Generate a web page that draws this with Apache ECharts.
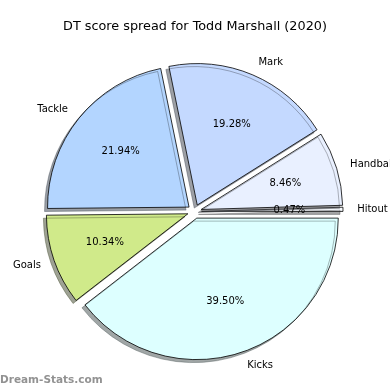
<!DOCTYPE html>
<html><head><meta charset="utf-8">
<script src="https://cdn.jsdelivr.net/npm/echarts@6/dist/echarts.min.js"></script>
<style>html,body{margin:0;padding:0;background:#fff}#c{width:390px;height:390px}</style>
</head><body><div id="c"></div>
<script>
const categories = ['Hitout', 'Handball', 'Mark', 'Tackle', 'Goals', 'Kicks'];
const shares = [0.47, 8.46, 19.28, 21.94, 10.34, 39.50];
const sliceColors = ['#f8fbff', '#e9f0ff', '#c4d9ff', '#b3d5ff', '#d0ea8a', '#ddffff'];
const chartTitle = 'DT score spread for Todd Marshall (2020)';
const watermark = 'Dream-Stats.com';

const R = 141.5, CX = 194.5, CY = 211.5, OFF = 7;
const FONT = 'DejaVu Sans';

function shadowOf(hex) {
  const n = parseInt(hex.slice(1), 16);
  const r = Math.round(((n >> 16) & 255) * 0.3), g = Math.round(((n >> 8) & 255) * 0.3), b = Math.round((n & 255) * 0.3);
  return 'rgba(' + r + ',' + g + ',' + b + ',0.5)';
}

const mainData = categories.map((c, i) => ({
  name: c, value: shares[i], selected: true,
  itemStyle: { color: sliceColors[i], shadowColor: shadowOf(sliceColors[i]) }
}));
const pctData = categories.map((c, i) => ({ name: c, value: shares[i], selected: true }));

const chart = echarts.init(document.getElementById('c'), null, { renderer: 'canvas' });
chart.setOption({
  animation: false,
  backgroundColor: '#fff',
  title: {
    text: chartTitle, left: 'center', top: 15,
    textStyle: { fontFamily: FONT, fontSize: 12.8, fontWeight: 'normal', color: '#000' }
  },
  graphic: [{
    type: 'text', left: 0, top: 375,
    style: { text: watermark, fontFamily: FONT, fontSize: 10.5, fontWeight: 'bold', fill: '#929292' }
  }],
  series: [{
    type: 'pie', center: [CX, CY], radius: [0, R],
    clockwise: false, startAngle: 0,
    selectedMode: 'multiple', selectedOffset: OFF,
    avoidLabelOverlap: false, silent: true,
    itemStyle: { borderColor: '#000', borderWidth: 0.8, shadowBlur: 0.5, shadowOffsetX: -3, shadowOffsetY: 3 },
    label: {
      show: true, position: 'outside', formatter: '{b}', alignTo: 'none',
      edgeDistance: 0, bleedMargin: 0, distanceToLabelLine: 0, overflow: 'none',
      fontFamily: FONT, fontSize: 10, color: '#000'
    },
    labelLine: { show: false, length: R * 0.1, length2: 0 },
    emphasis: { disabled: true }, select: { disabled: false },
    data: mainData
  }, {
    type: 'pie', center: [CX, CY], radius: [R * 0.2, R],
    clockwise: false, startAngle: 0,
    selectedMode: 'multiple', selectedOffset: OFF,
    avoidLabelOverlap: false, silent: true,
    itemStyle: { color: 'rgba(0,0,0,0)', borderWidth: 0 },
    label: {
      show: true, position: 'inside',
      formatter: p => p.value.toFixed(2) + '%',
      fontFamily: FONT, fontSize: 10, color: '#000'
    },
    labelLine: { show: false },
    emphasis: { disabled: true },
    data: pctData
  }]
});
</script></body></html>
